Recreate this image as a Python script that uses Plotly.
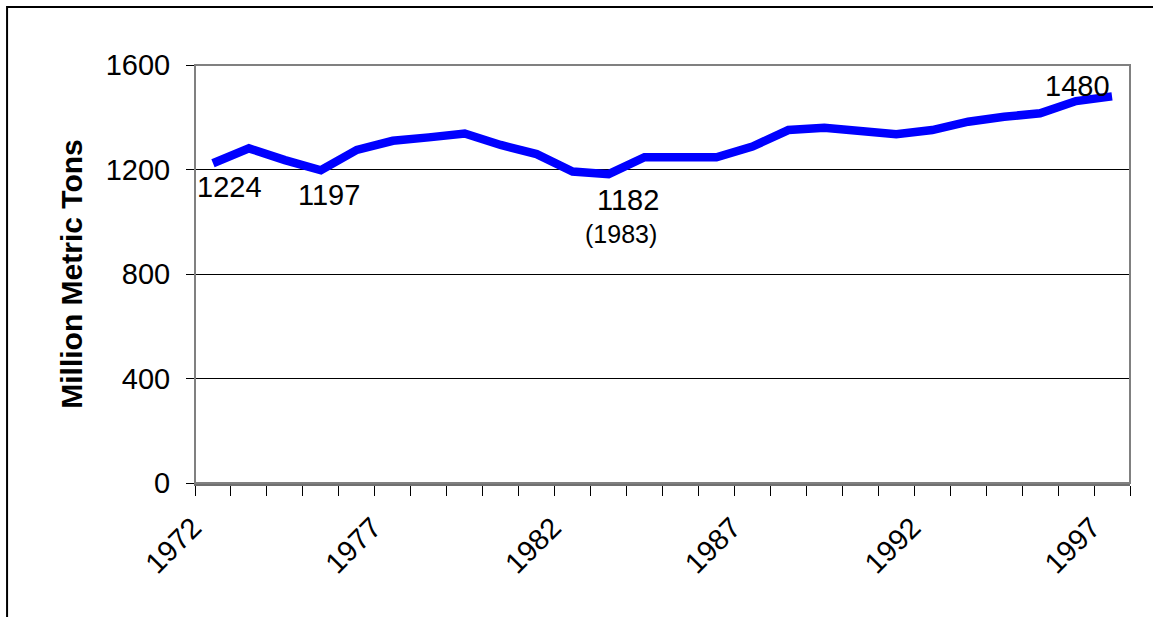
import plotly.graph_objects as go

years = list(range(1972, 1998))
tons = [1224, 1281, 1236, 1197, 1275, 1310, 1323, 1338, 1294, 1259, 1192, 1182, 1247,
        1247, 1247, 1288, 1351, 1360, 1347, 1335, 1351, 1383, 1402, 1415, 1462, 1480]
x_tick_years = [1972, 1977, 1982, 1987, 1992, 1997]
y_ticks = [0, 400, 800, 1200, 1600]

# data labels: (year, value, text, font size, xshift, yshift)
labels = [
    (1972, 1224, "1224", 29, 17, -24),
    (1975, 1197, "1197", 29, 8, -25),
    (1983, 1182, "1182", 29, 19, -26),
    (1983, 1182, "(1983)", 25, 12, -60),
    (1997, 1480, "1480", 29, -35, 10),
]

FONT = "Liberation Sans, Arial, sans-serif"

fig = go.Figure()
fig.add_trace(go.Scatter(
    x=years, y=tons, mode="lines",
    line=dict(color="#0000FF", width=8.5),
    hoverinfo="x+y", showlegend=False,
))

for yr, val, txt, fs, dx, dy in labels:
    fig.add_annotation(x=yr, y=val, xref="x", yref="y", text=txt, showarrow=False,
                       xshift=dx, yshift=dy, font=dict(family=FONT, size=fs, color="black"))

# plot area border (top/right gray)
fig.add_shape(type="rect", xref="paper", yref="paper", x0=0, y0=0, x1=1, y1=1,
              line=dict(color="#808080", width=2), layer="above")
# outer figure border (right/bottom edges fall outside the page)
fig.add_shape(type="rect", xref="paper", yref="paper", x0=-0.201, y0=-0.6, x1=1.3, y1=1.1388,
              line=dict(color="black", width=2), layer="above")

fig.update_layout(
    width=1153, height=617,
    margin=dict(l=195, r=23, t=65, b=134),
    paper_bgcolor="white", plot_bgcolor="white",
    font=dict(family=FONT, size=29, color="black"),
    xaxis=dict(
        range=[1971.5, 1997.5], tickvals=x_tick_years, ticks="", tickangle=-45,
        showgrid=False, zeroline=False, showline=True, linecolor="#707070", linewidth=3,
        tickfont=dict(size=29), ticklabelstandoff=13, ticklabelshift=-20,
        minor=dict(ticks="outside", tick0=1971.5, dtick=1, ticklen=10,
                   tickcolor="black", tickwidth=1, showgrid=False),
    ),
    yaxis=dict(
        range=[0, 1600], tickvals=y_ticks, ticks="outside", ticklen=8, tickcolor="black",
        showgrid=True, gridcolor="black", gridwidth=1, zeroline=False,
        showline=True, linecolor="black", linewidth=1,
        tickfont=dict(size=29), ticklabelstandoff=10,
        title=dict(text="<b>Million Metric Tons</b>", font=dict(size=30), standoff=14),
    ),
)

fig.write_html("out.html", config={"displayModeBar": False},
               post_script="document.body.style.margin='0';")
